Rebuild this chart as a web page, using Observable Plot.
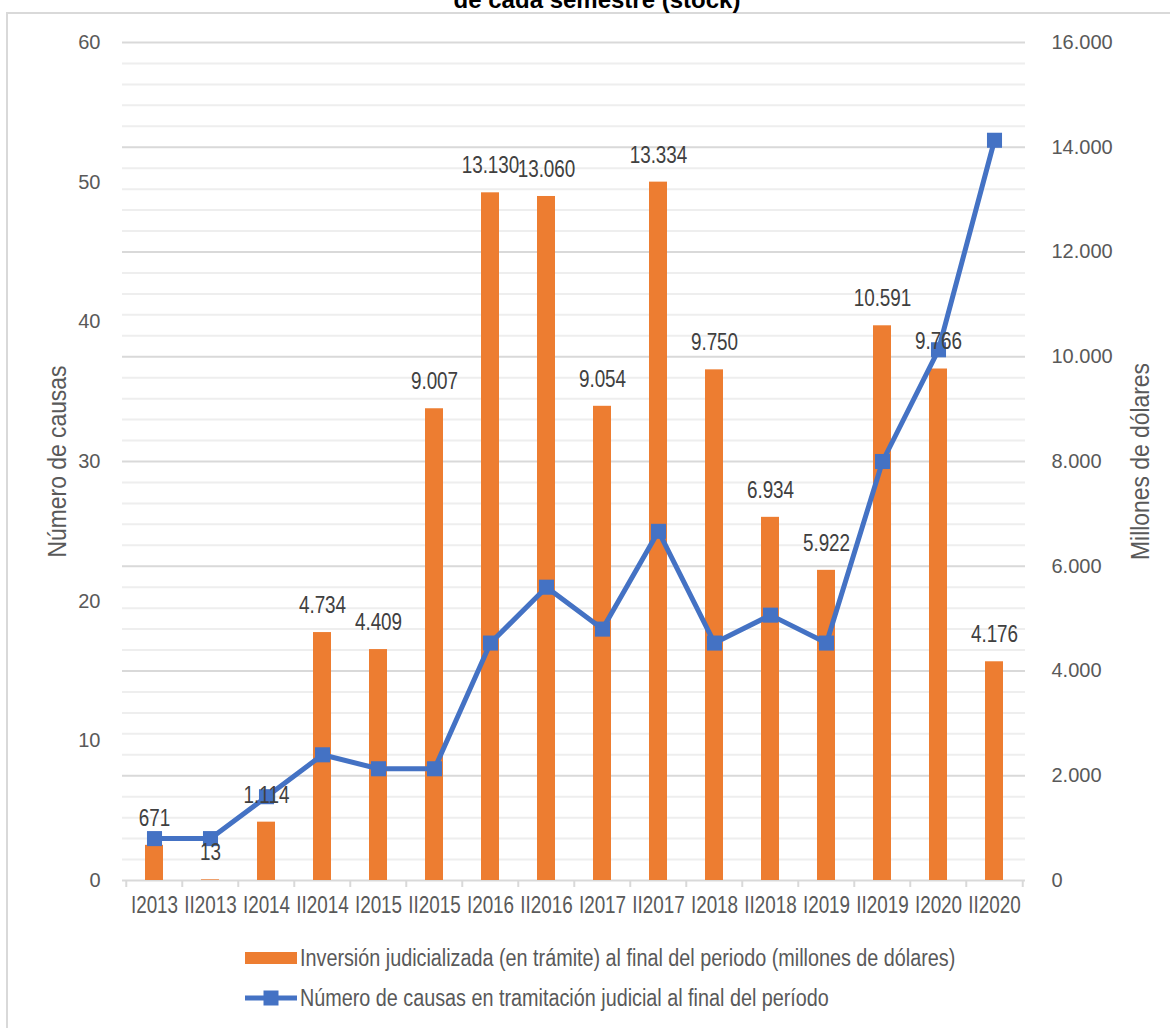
<!DOCTYPE html>
<html>
<head>
<meta charset="utf-8">
<script src="https://cdn.jsdelivr.net/npm/d3@7"></script>
<script src="https://cdn.jsdelivr.net/npm/@observablehq/plot@0.6"></script>
<style>
  html, body { margin: 0; padding: 0; background: #fff; }
  body { width: 1170px; height: 1028px; overflow: hidden; position: relative; font-family: "Liberation Sans", Arial, sans-serif; }
  #frame { position: absolute; left: 6px; top: 12px; width: 1200px; height: 1100px; border-left: 2px solid #d9d9d9; border-top: 2px solid #d9d9d9; }
  #title { position: absolute; left: 0; width: 1194px; top: -12px; text-align: center; font: bold 24px/24px "Liberation Sans", Arial, sans-serif; color: #000; z-index: 3; }
  #chart { position: absolute; left: 0; top: 0; z-index: 2; }
  #legend { position: absolute; left: 0; top: 930px; width: 1170px; z-index: 2; font-family: "Liberation Sans", Arial, sans-serif; font-size: 23px; color: #595959; }
  .row { position: absolute; left: 245px; display: flex; align-items: center; height: 30px; white-space: nowrap; }
  .row svg { margin-right: 3px; flex: none; }
  .row span { display: inline-block; transform: scaleX(0.86); transform-origin: 0 50%; }
</style>
</head>
<body>
<div id="frame"></div>
<div id="title">de cada semestre (stock)</div>
<div id="chart"></div>
<div id="legend">
  <div class="row" style="top:13px"><svg width="52" height="14"><rect x="0" y="1" width="52" height="12" fill="#ED7D31"></rect></svg><span id="lg1"></span></div>
  <div class="row" style="top:53px"><svg width="52" height="16"><line x1="0" x2="52" y1="8" y2="8" stroke="#4472C4" stroke-width="5"></line><rect x="18.5" y="0.5" width="15" height="15" fill="#4472C4"></rect></svg><span id="lg2"></span></div>
</div>
<script>
const periods = ["I2013","II2013","I2014","II2014","I2015","II2015","I2016","II2016","I2017","II2017","I2018","II2018","I2019","II2019","I2020","II2020"];
const inversion = [671, 13, 1114, 4734, 4409, 9007, 13130, 13060, 9054, 13334, 9750, 6934, 5922, 10591, 9766, 4176];
const causas = [3, 3, 6, 9, 8, 8, 17, 21, 18, 25, 17, 19, 17, 30, 38, 53];
const leftTicks = [0, 10, 20, 30, 40, 50, 60];
const rightTicks = [0, 2000, 4000, 6000, 8000, 10000, 12000, 14000, 16000];
const minorTicks = d3.range(0, 16001, 400).filter(v => v % 2000 !== 0);
const seriesNames = ["Inversión judicializada (en trámite) al final del periodo (millones de dólares)", "Número de causas en tramitación judicial al final del período"];
const axisTitles = ["Número de causas", "Millones de dólares"];

document.getElementById("lg1").textContent = seriesNames[0];
document.getElementById("lg2").textContent = seriesNames[1];

const leftMax = 60, rightMax = 16000;
const toRight = v => v * rightMax / leftMax;
const data = periods.map((p, i) => ({period: p, inv: inversion[i], cas: causas[i]}));

const W = 1170, ML = 122, MR = 145;
const step = (W - ML - MR) / periods.length;
const font = "'Liberation Sans', Arial, sans-serif";

const chart = Plot.plot({
  width: W,
  height: 930,
  marginLeft: ML,
  marginRight: MR,
  marginTop: 42,
  marginBottom: 50,
  style: {background: "transparent", overflow: "visible", fontFamily: font},
  x: {type: "band", domain: periods, paddingInner: 0.68, paddingOuter: 0.34, axis: null},
  y: {domain: [0, rightMax], axis: null},
  marks: [
    Plot.ruleY(minorTicks, {stroke: "#eeeeee", strokeWidth: 2}),
    Plot.ruleY(rightTicks, {stroke: "#d9d9d9", strokeWidth: 2}),
    Plot.ruleX(periods, {x: d => d, y1: 0, y2: 0, dx: -step / 2, insetBottom: -7, stroke: "#d9d9d9", strokeWidth: 2}),
    Plot.ruleX(periods.slice(-1), {x: d => d, y1: 0, y2: 0, dx: step / 2, insetBottom: -7, stroke: "#d9d9d9", strokeWidth: 2}),
    Plot.barY(data, {x: "period", y: "inv", fill: "#ED7D31"}),
    Plot.line(data, {x: "period", y: d => toRight(d.cas), stroke: "#4472C4", strokeWidth: 5, strokeLinejoin: "round"}),
    Plot.dot(data, {x: "period", y: d => toRight(d.cas), symbol: "square", r: 8.5, fill: "#4472C4", stroke: "none"}),
    Plot.text(data, {x: "period", y: "inv", text: d => d3.format(",")(d.inv).replace(/,/g, "."), dy: -27, fontSize: 23, fill: "#404040"}),
    Plot.axisX({tickSize: 0, tickPadding: 16, fontSize: 23, color: "#595959", label: null}),
    Plot.axisY(leftTicks.map(toRight), {anchor: "left", tickSize: 0, tickPadding: 22, fontSize: 20, color: "#595959", tickFormat: v => String(Math.round(v * leftMax / rightMax)), label: null}),
    Plot.axisY(rightTicks, {anchor: "right", tickSize: 0, tickPadding: 26, fontSize: 20, color: "#595959", tickFormat: v => d3.format(",")(v).replace(/,/g, "."), label: null}),
    Plot.text([axisTitles[0]], {frameAnchor: "left", textAnchor: "middle", dx: -65, rotate: -90, text: d => d, fontSize: 26, fill: "#595959"}),
    Plot.text([axisTitles[1]], {frameAnchor: "right", textAnchor: "middle", dx: 115, rotate: -90, text: d => d, fontSize: 26, fill: "#595959"})
  ]
});
document.getElementById("chart").appendChild(chart);

// emulate the condensed (narrow) typeface of the original by horizontally compressing glyphs
const squeeze = {"23": 0.82, "26": 0.88};
chart.querySelectorAll("text").forEach(t => {
  const g = t.closest("[font-size]");
  const fs = g ? String(parseFloat(g.getAttribute("font-size"))) : null;
  const k = squeeze[fs];
  if (!k) return;
  const tr = t.getAttribute("transform") || "";
  if (tr.includes("rotate")) {
    t.setAttribute("transform", tr + ` scale(${k},1)`);
  } else {
    const len = t.getComputedTextLength();
    t.setAttribute("textLength", (len * k).toFixed(2));
    t.setAttribute("lengthAdjust", "spacingAndGlyphs");
  }
});
</script>
</body>
</html>
